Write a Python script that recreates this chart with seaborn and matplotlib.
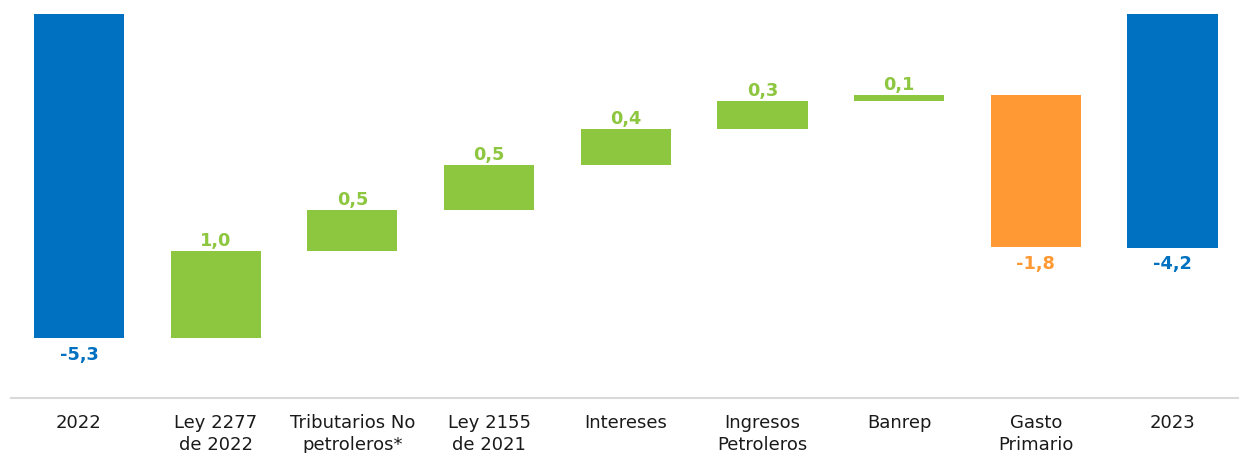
import numpy as np
import pandas as pd
import matplotlib
matplotlib.use("Agg")
import matplotlib.pyplot as plt
import seaborn as sns

# ---- data ----
categories = ["2022", "Ley 2277\nde 2022", "Tributarios No\npetroleros*", "Ley 2155\nde 2021",
              "Intereses", "Ingresos\nPetroleros", "Banrep", "Gasto\nPrimario", "2023"]
values = [-5.30, 1.02, 0.48, 0.53, 0.42, 0.33, 0.07, -1.78, -4.24]
kinds = ["total", "delta", "delta", "delta", "delta", "delta", "delta", "delta", "total"]

BLUE = "#0070C0"
GREEN = "#8DC63F"
ORANGE = "#FF9933"

# waterfall bottoms computed from the data
bottoms = []
running = 0.0
for v, k in zip(values, kinds):
    if k == "total":
        bottoms.append(0.0)
        running = v
    else:
        bottoms.append(running)
        running += v

colors = []
for v, k in zip(values, kinds):
    if k == "total":
        colors.append(BLUE)
    elif v >= 0:
        colors.append(GREEN)
    else:
        colors.append(ORANGE)

df = pd.DataFrame({"cat": categories, "val": values})

sns.set_style("white")
plt.rcParams["font.family"] = ["DejaVu Sans"]

fig = plt.figure(figsize=(12.39, 4.53), dpi=100)
ax = fig.add_axes([10.65 / 1239, 55 / 453, 1230.2 / 1239, 384 / 453])

sns.barplot(data=df, x="cat", y="val", order=categories, errorbar=None,
            width=0.66, color=BLUE, saturation=1, bottom=bottoms,
            facecolor=colors, edgecolor="none", linewidth=0, ax=ax)

ax.set_ylim(-6.0, -1.5)
ax.set_xlim(-0.5, len(categories) - 0.5)

# value labels
for i, (v, b, k, c) in enumerate(zip(values, bottoms, kinds, colors)):
    end = b + v
    label = f"{v:.1f}".replace(".", ",")
    if v >= 0:
        ax.annotate(label, (i, end), xytext=(0, 3.6), textcoords="offset points",
                    ha="center", va="baseline", color=c, fontsize=12.8,
                    fontweight="bold")
    else:
        ax.annotate(label, (i, end), xytext=(0, -5.5), textcoords="offset points",
                    ha="center", va="top", color=c, fontsize=12.8,
                    fontweight="bold")

ax.set_xlabel("")
ax.set_ylabel("")
ax.set_yticks([])
sns.despine(ax=ax, left=True, top=True, right=True)
ax.spines["bottom"].set_color("#D9D9D9")
ax.spines["bottom"].set_linewidth(1.5)
ax.tick_params(axis="x", length=0, pad=11.5, labelsize=13, labelcolor="#1a1a1a")
for t in ax.get_xticklabels():
    t.set_linespacing(1.3)

fig.savefig("out.png", dpi=100)
